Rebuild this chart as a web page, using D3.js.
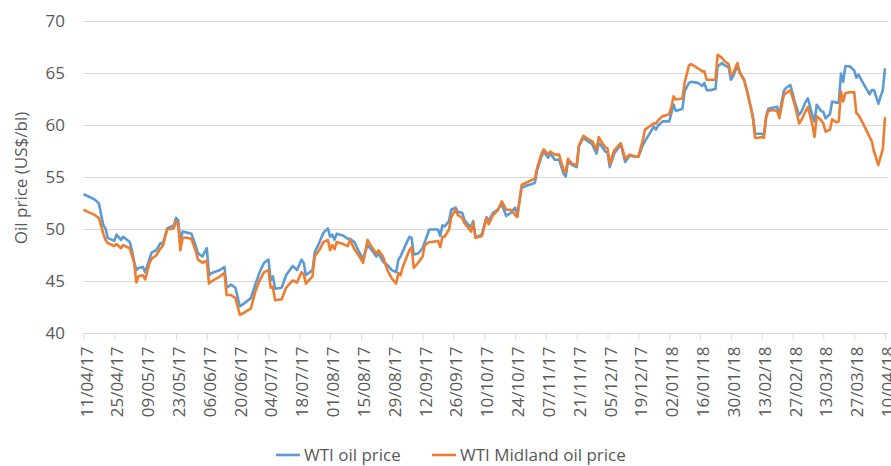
<!DOCTYPE html>
<html>
<head>
<meta charset="utf-8">
<script src="https://cdn.jsdelivr.net/npm/d3@7"></script>
<style>
  body { margin: 0; background: #fff; }
  text { font-family: 'Open Sans', sans-serif; fill: #595959; }
</style>
</head>
<body>
<script>
const w = 891;
const h = 466;

// dates of the readings
const dates = [
  '2017-04-11','2017-04-13','2017-04-16','2017-04-18','2017-04-20','2017-04-21','2017-04-22','2017-04-25','2017-04-26','2017-04-28',
  '2017-04-29','2017-05-02','2017-05-03','2017-05-04','2017-05-05','2017-05-06','2017-05-08','2017-05-09','2017-05-11','2017-05-12',
  '2017-05-14','2017-05-16','2017-05-17','2017-05-19','2017-05-22','2017-05-23','2017-05-24','2017-05-25','2017-05-26','2017-05-28',
  '2017-05-30','2017-06-01','2017-06-02','2017-06-04','2017-06-06','2017-06-07','2017-06-08','2017-06-12','2017-06-14','2017-06-15',
  '2017-06-17','2017-06-19','2017-06-21','2017-06-23',
  '2017-06-26','2017-06-28','2017-06-30','2017-07-02','2017-07-04','2017-07-05','2017-07-06','2017-07-07','2017-07-10','2017-07-12',
  '2017-07-15','2017-07-17','2017-07-19','2017-07-20','2017-07-21','2017-07-24','2017-07-25','2017-07-27','2017-07-29','2017-07-31',
  '2017-08-01','2017-08-02','2017-08-03','2017-08-04','2017-08-07','2017-08-09','2017-08-10','2017-08-12','2017-08-14','2017-08-16',
  '2017-08-18','2017-08-20','2017-08-22','2017-08-23','2017-08-25','2017-08-27','2017-08-29','2017-08-31','2017-09-01','2017-09-02',
  '2017-09-03',
  '2017-09-06','2017-09-07','2017-09-08','2017-09-10','2017-09-12','2017-09-13','2017-09-15','2017-09-16','2017-09-19','2017-09-20',
  '2017-09-21','2017-09-22','2017-09-24','2017-09-25','2017-09-27','2017-09-28','2017-09-30','2017-10-01','2017-10-03','2017-10-04',
  '2017-10-05','2017-10-06','2017-10-08','2017-10-09','2017-10-11','2017-10-12','2017-10-14','2017-10-16','2017-10-18','2017-10-20',
  '2017-10-22','2017-10-24','2017-10-25','2017-10-27','2017-10-29','2017-11-01','2017-11-02','2017-11-03','2017-11-05','2017-11-06',
  '2017-11-08','2017-11-09','2017-11-11','2017-11-13','2017-11-15','2017-11-16',
  '2017-11-17','2017-11-19','2017-11-21','2017-11-22','2017-11-24','2017-11-26','2017-11-28','2017-11-30','2017-12-01','2017-12-02',
  '2017-12-04','2017-12-05','2017-12-06','2017-12-08','2017-12-11','2017-12-13','2017-12-15','2017-12-18','2017-12-19','2017-12-21',
  '2017-12-22','2017-12-24','2017-12-26','2017-12-27','2017-12-28','2017-12-30','2018-01-01','2018-01-02','2018-01-03','2018-01-04',
  '2018-01-05','2018-01-08','2018-01-09','2018-01-11','2018-01-12','2018-01-15','2018-01-17','2018-01-18','2018-01-19','2018-01-21',
  '2018-01-23','2018-01-24','2018-01-26','2018-01-27',
  '2018-01-29','2018-01-30','2018-01-31','2018-02-02','2018-02-03','2018-02-05','2018-02-06','2018-02-08','2018-02-09','2018-02-10',
  '2018-02-11','2018-02-13','2018-02-14','2018-02-15','2018-02-16','2018-02-18','2018-02-20','2018-02-21','2018-02-23','2018-02-24',
  '2018-02-26','2018-02-28','2018-03-02','2018-03-03','2018-03-05','2018-03-06','2018-03-08','2018-03-09','2018-03-10','2018-03-12',
  '2018-03-13','2018-03-14','2018-03-16','2018-03-17','2018-03-19','2018-03-20','2018-03-21','2018-03-22','2018-03-23','2018-03-25',
  '2018-03-27','2018-03-28','2018-03-29','2018-03-31','2018-04-03','2018-04-04','2018-04-05','2018-04-07','2018-04-08','2018-04-09',
  '2018-04-10'
];

const wti = [
  53.4,53.2,52.9,52.5,50.4,50.1,49.2,48.9,49.5,49.0,
  49.3,48.8,48.0,46.9,46.1,46.3,46.4,45.9,47.2,47.8,
  48.0,48.7,48.6,50.1,50.4,51.1,50.9,48.8,49.8,49.7,
  49.6,48.4,47.7,47.4,48.2,45.6,45.8,46.1,46.4,44.4,
  44.7,44.4,42.6,42.9,
  43.4,44.7,45.9,46.8,47.1,45.1,45.5,44.3,44.4,45.6,
  46.5,46.1,47.1,46.8,45.6,46.1,47.8,48.7,49.7,50.1,
  49.3,49.5,49.0,49.6,49.4,49.1,49.1,48.8,47.9,47.2,
  48.5,48.0,47.4,47.7,46.9,46.6,46.1,45.9,47.1,47.4,
  47.9,
  49.3,49.2,47.6,47.7,48.2,48.8,50.0,50.0,50.0,49.4,
  50.4,50.3,50.8,51.9,52.1,51.7,51.6,50.9,50.4,50.3,
  50.8,49.3,49.4,49.6,51.2,50.8,51.6,51.9,52.4,51.3,
  51.6,52.1,51.4,54.0,54.2,54.4,54.5,55.7,57.0,57.5,
  56.9,57.3,56.7,56.7,55.4,55.1,
  56.5,56.2,56.0,58.0,58.8,58.5,58.2,57.3,58.3,58.1,
  57.5,57.4,56.0,57.3,58.2,56.5,57.1,57.0,57.0,58.1,
  58.5,59.2,59.9,59.6,60.0,60.4,60.4,60.4,61.2,62.0,
  61.4,61.6,63.3,64.1,64.2,64.1,63.8,64.1,63.4,63.4,
  63.5,65.7,66.0,65.8,
  65.6,64.4,64.7,65.8,65.1,64.4,63.6,61.8,60.9,59.2,
  59.2,59.2,59.1,60.9,61.6,61.7,61.8,61.0,63.3,63.6,
  63.9,62.3,61.0,61.3,62.3,62.6,61.0,60.4,62.0,61.4,
  61.3,60.7,61.1,62.3,62.2,62.2,65.0,64.2,65.7,65.7,
  65.3,64.6,64.9,64.1,63.0,63.4,63.4,62.1,62.8,63.4,
  65.5
];

const midland = [
  51.9,51.7,51.4,51.1,49.6,49.0,48.7,48.4,48.6,48.2,
  48.5,48.2,47.5,46.8,44.9,45.5,45.6,45.2,46.8,47.2,
  47.5,48.2,48.4,50.0,50.1,50.8,50.4,48.0,49.2,49.2,
  49.1,47.9,47.1,46.8,47.0,44.8,45.0,45.5,45.8,43.7,
  43.7,43.4,41.8,42.0,
  42.4,44.0,45.1,45.9,46.1,44.4,44.5,43.2,43.3,44.4,
  45.1,44.9,45.9,45.7,44.8,45.5,47.4,48.0,48.8,49.0,
  48.0,48.5,48.1,48.8,48.6,48.4,49.0,48.1,47.5,46.8,
  49.0,48.3,47.7,48.0,47.4,46.1,45.3,44.8,45.8,45.6,
  46.4,
  48.0,48.3,46.3,46.8,47.4,48.5,48.8,48.8,48.9,48.3,
  49.3,49.3,50.0,51.2,51.9,51.4,51.1,50.6,50.1,49.8,
  50.6,49.2,49.3,49.4,51.1,50.5,51.4,51.8,52.7,51.9,
  51.9,51.4,51.2,54.3,54.5,54.8,54.9,55.9,57.3,57.7,
  57.2,57.5,57.2,57.2,55.7,55.5,
  56.8,56.3,56.2,58.1,59.0,58.7,58.5,57.7,58.9,58.5,
  57.9,57.8,56.3,57.6,58.3,56.8,57.2,57.0,57.0,58.6,
  59.6,59.9,60.2,60.2,60.5,60.9,61.0,61.1,61.8,62.8,
  62.5,62.6,64.1,65.8,65.9,65.5,65.2,65.2,64.4,64.4,
  64.4,66.8,66.5,66.2,
  65.9,64.9,65.0,66.0,65.1,64.4,63.6,61.8,60.7,58.8,
  58.8,58.9,58.8,60.7,61.4,61.5,61.4,60.7,62.9,63.1,
  63.4,62.0,60.2,60.5,61.4,61.8,60.1,58.9,60.9,60.5,
  60.2,59.4,59.6,60.6,60.3,60.4,63.3,62.3,63.1,63.2,
  63.2,61.2,61.0,60.2,58.9,58.5,57.5,56.2,57.0,57.7,
  60.8
];

const tickDates = [
  '2017-04-11','2017-04-25','2017-05-09','2017-05-23','2017-06-06','2017-06-20','2017-07-04',
  '2017-07-18','2017-08-01','2017-08-15','2017-08-29','2017-09-12','2017-09-26','2017-10-10',
  '2017-10-24','2017-11-07','2017-11-21','2017-12-05','2017-12-19','2018-01-02','2018-01-16',
  '2018-01-30','2018-02-13','2018-02-27','2018-03-13','2018-03-27','2018-04-10'
];
const yTicks = [40, 45, 50, 55, 60, 65, 70];

const seriesNames = ['WTI oil price', 'WTI Midland oil price'];
const colors = ['#5B9BD5', '#ED7D31'];

const parse = d3.timeParse('%Y-%m-%d');
const fmt = d3.timeFormat('%d/%m/%y');

const svg = d3.select('body')
  .append('svg')
  .attr('width', w)
  .attr('height', h);

const xScale = d3.scaleTime()
  .domain([parse(tickDates[0]), parse(tickDates[tickDates.length - 1])])
  .range([83.5, 885]);

const yScale = d3.scaleLinear()
  .domain([40, 70])
  .range([333.5, 21.5]);

// gridlines
svg.append('g')
  .selectAll('line')
  .data(yTicks.slice(1))
  .enter()
  .append('line')
  .attr('x1', 83.5)
  .attr('x2', 888)
  .attr('y1', d => yScale(d))
  .attr('y2', d => yScale(d))
  .attr('stroke', '#d9d9d9')
  .attr('stroke-width', 1);

// y axis labels
const yAxis = d3.axisLeft(yScale).tickValues(yTicks).tickSize(0).tickPadding(0);
const gy = svg.append('g')
  .attr('transform', 'translate(65,0)')
  .call(yAxis);
gy.select('.domain').remove();
gy.selectAll('text')
  .style('font-size', '17px')
  .style('font-family', "'Open Sans', sans-serif")
  .attr('fill', '#595959');

// x axis
const xAxis = d3.axisBottom(xScale)
  .tickValues(tickDates.map(parse))
  .tickFormat(fmt)
  .tickSizeInner(6)
  .tickSizeOuter(0);

const gx = svg.append('g')
  .attr('transform', 'translate(0,' + yScale(40) + ')')
  .call(xAxis);
gx.select('.domain')
  .attr('d', 'M83.5,0H888')
  .attr('stroke', '#d9d9d9');
gx.selectAll('.tick line').attr('stroke', '#d9d9d9');
gx.selectAll('.tick text')
  .attr('fill', '#595959')
  .style('font-size', '17px')
  .style('font-family', "'Open Sans', sans-serif")
  .attr('text-anchor', 'end')
  .attr('transform', 'rotate(-90)')
  .attr('x', -13)
  .attr('y', 0)
  .attr('dy', '0.5em');

// lines
const line = d3.line()
  .x((d, i) => xScale(parse(dates[i])))
  .y(d => yScale(d));

[wti, midland].forEach((s, k) => {
  svg.append('path')
    .datum(s)
    .attr('fill', 'none')
    .attr('stroke', colors[k])
    .attr('stroke-width', 2.6)
    .attr('stroke-linejoin', 'round')
    .attr('d', line);
});

// y title
svg.append('text')
  .attr('transform', 'translate(27,178) rotate(-90)')
  .attr('text-anchor', 'middle')
  .style('font-size', '17px')
  .text('Oil price (US$/bl)');

// legend
const legendX = [276, 432];
const legend = svg.append('g')
  .selectAll('g')
  .data(seriesNames)
  .enter()
  .append('g')
  .attr('transform', (d, i) => 'translate(' + legendX[i] + ',455)');

legend.append('line')
  .attr('x1', 0)
  .attr('x2', 24)
  .attr('stroke', (d, i) => colors[i])
  .attr('stroke-width', 2.6);

legend.append('text')
  .attr('x', 28)
  .attr('dy', '0.35em')
  .style('font-size', '17px')
  .text(d => d);
</script>
</body>
</html>
